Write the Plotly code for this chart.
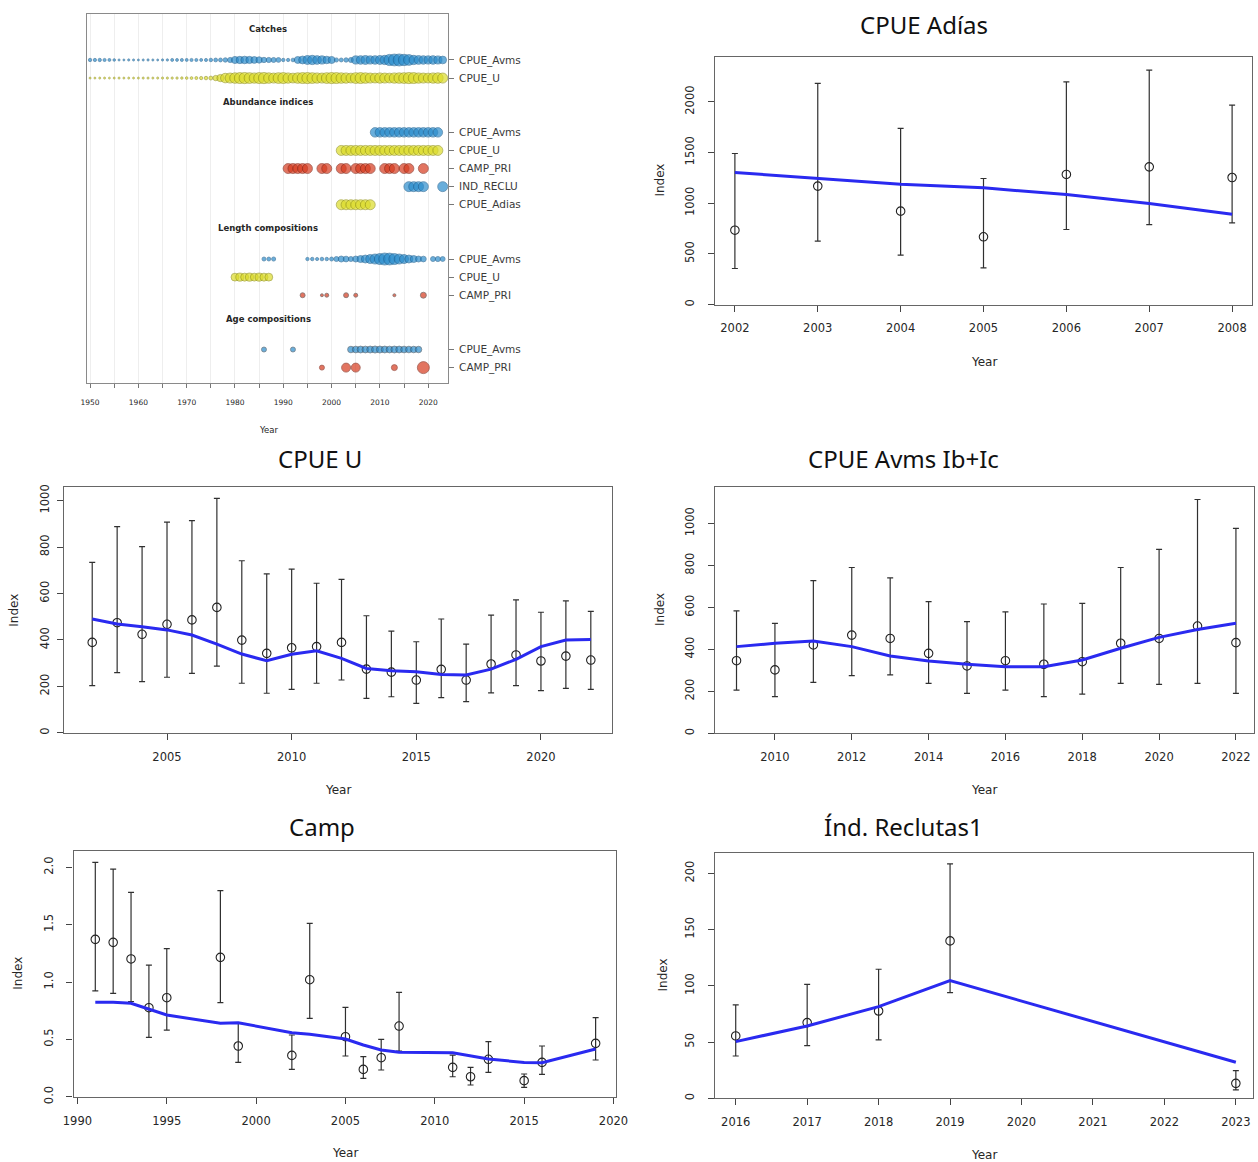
import plotly.graph_objects as go
import numpy as np

W, H = 1258, 1162

# ---------------- Data overview panel (top-left) ----------------
catch_years = list(range(1950, 2024))
catch_cpue_avms = [120, 110, 115, 100, 90, 70,
                   45, 40, 50, 45, 40, 45, 50, 45, 40, 50, 55,
                   90, 85, 95, 90, 100, 95, 90, 100,
                   130, 150, 160, 200, 280,
                   520, 560, 600, 540, 480, 420,
                   300, 280, 260, 240,
                   120, 110, 140,
                   500, 650, 820, 900, 780, 700, 600, 520,
                   180, 160, 200, 260,
                   700, 760, 820, 700, 750, 820, 900,
                   1300, 1450, 1500, 1350, 1200,
                   900, 800, 750, 700, 760, 680, 620]
catch_cpue_u = [40, 38, 42, 40, 36, 40, 44, 40, 42, 38, 40, 44, 46, 42, 45, 48, 50, 52, 55, 60,
                70, 80, 90, 110, 130, 160,
                300, 550,
                950, 1050, 1150, 1250, 1300, 1200, 1100, 1250, 1300, 1150, 1050, 1200,
                1250, 1100, 1000, 1150, 1250, 1300, 1200, 1100, 1050, 1200, 1300, 1250,
                1150, 1100, 1000, 1200, 1250, 1150, 1050, 1000, 1100, 1050, 1000, 1100,
                1150, 1200, 1300, 1250, 1100, 1050, 1000, 1100, 1150, 1050]

abund_avms_years = list(range(2009, 2023))
abund_u_years = list(range(2002, 2023))
abund_camp_years = [1991, 1992, 1993, 1994, 1995, 1998, 1999, 2002, 2003, 2005, 2006,
                    2007, 2008, 2011, 2012, 2013, 2015, 2016, 2019]
abund_reclu_years = [2016, 2017, 2018, 2019, 2023]
abund_adias_years = list(range(2002, 2009))

len_avms_years = [1986, 1987, 1988, 1995, 1996, 1997, 1998, 1999] + list(range(2000, 2020)) + [2021, 2022, 2023]
len_avms_n = [160, 150, 170, 110, 120, 100, 130, 120,
              160, 250, 360, 330, 250, 360, 490, 640, 810, 1000, 1210, 1440, 1400, 1210, 1000,
              810, 640, 490, 360, 330,
              250, 260, 240]
len_u_years = list(range(1980, 1988))
len_u_n = [620, 650, 640, 660, 630, 650, 640, 620]
len_camp_years = [1994, 1998, 1999, 2003, 2005, 2013, 2019]
len_camp_n = [250, 90, 160, 250, 160, 90, 360]

age_avms_years = [1986, 1992] + list(range(2004, 2019))
age_avms_n = [250, 250, 430, 450, 470, 460, 480, 500, 490, 470, 460, 480, 470, 450, 440, 430, 420]
age_camp_years = [1998, 2003, 2005, 2013, 2019]
age_camp_n = [250, 810, 810, 360, 1440]

row_labels = ["CPUE_Avms", "CPUE_U", "CPUE_Avms", "CPUE_U", "CAMP_PRI", "IND_RECLU",
              "CPUE_Adias", "CPUE_Avms", "CPUE_U", "CAMP_PRI", "CPUE_Avms", "CAMP_PRI"]
row_pos = [0, 1, 4, 5, 6, 7, 8, 11, 12, 13, 16, 17]
section_labels = ["Catches", "Abundance indices", "Length compositions", "Age compositions"]
section_pos = [-1.7, 2.3, 9.3, 14.3]

# ---------------- Index fit panels ----------------
adias_years = list(range(2002, 2009))
adias_obs = [733, 1168, 921, 668, 1283, 1358, 1253]
adias_upper = [1490, 2181, 1737, 1243, 2197, 2312, 1967]
adias_lower = [355, 625, 487, 362, 740, 789, 806]
adias_exp = [1302, 1243, 1187, 1151, 1085, 997, 891]

u_years = list(range(2002, 2023))
u_obs = [389, 474, 424, 467, 486, 540, 399, 342, 366, 371, 389, 274, 261, 227, 273, 227, 296, 335, 309, 330, 313]
u_upper = [734, 888, 802, 907, 914, 1010, 741, 684, 705, 644, 661, 504, 438, 392, 490, 382, 507, 572, 519, 568, 523]
u_lower = [203, 259, 220, 239, 256, 287, 213, 170, 187, 213, 227, 148, 155, 126, 151, 134, 172, 203, 181, 191, 187]
u_exp = [490, 468, 457, 443, 421, 382, 339, 310, 338, 353, 320, 277, 267, 263, 251, 249, 274, 316, 371, 399, 402]

avms_years = list(range(2009, 2023))
avms_obs = [346, 302, 421, 468, 452, 381, 321, 346, 329, 341, 429, 452, 511, 432]
avms_upper = [583, 524, 727, 790, 741, 627, 532, 579, 616, 619, 790, 876, 1114, 976]
avms_lower = [206, 175, 243, 275, 278, 238, 190, 206, 175, 187, 238, 233, 238, 190]
avms_exp = [413, 429, 440, 413, 368, 344, 329, 317, 317, 349, 405, 457, 495, 524]

camp_years = [1991, 1992, 1993, 1994, 1995, 1998, 1999, 2002, 2003, 2005, 2006, 2007, 2008,
              2011, 2012, 2013, 2015, 2016, 2019]
camp_obs = [1.372, 1.346, 1.201, 0.776, 0.863, 1.215, 0.442, 0.360, 1.020, 0.523, 0.238, 0.340,
            0.616, 0.256, 0.174, 0.326, 0.140, 0.299, 0.465]
camp_upper = [2.044, 1.985, 1.782, 1.148, 1.291, 1.797, 0.640, 0.538, 1.512, 0.779, 0.349, 0.500,
              0.910, 0.363, 0.256, 0.480, 0.198, 0.442, 0.689]
camp_lower = [0.922, 0.901, 0.830, 0.517, 0.581, 0.820, 0.299, 0.238, 0.683, 0.355, 0.160, 0.233,
              0.398, 0.174, 0.102, 0.212, 0.081, 0.195, 0.320]
camp_exp = [0.823, 0.823, 0.814, 0.762, 0.712, 0.640, 0.645, 0.558, 0.544, 0.503, 0.451, 0.407,
            0.387, 0.384, 0.355, 0.328, 0.299, 0.297, 0.416]

rec_years = [2016, 2017, 2018, 2019, 2023]
rec_obs = [55.4, 67.3, 77.6, 139.9, 13.3]
rec_upper = [83.0, 101.3, 114.7, 208.3, 24.6]
rec_lower = [37.6, 46.8, 51.9, 93.9, 7.5]
rec_exp = [50.4, 64.3, 81.5, 104.6, 32.0]

# ---------------- figure ----------------
BLUE = "#2a8ccc"
BLUE_L = "#1c5c8c"
YEL = "#dcdc28"
YEL_L = "#8c8c14"
RED = "#d63a1e"
RED_L = "#7c2010"
TXT = "#262626"
FONT = "DejaVu Sans"

fig = go.Figure()
ann = []


def dom_x(l, r):
    return [l / W, r / W]


def dom_y(t, b):
    return [1 - b / H, 1 - t / H]


def sizes(vals, vmax, dmax, dmin=1.8):
    return [max(dmin, dmax * np.sqrt(v / vmax)) for v in vals]


def bubbles(xs, row, sz, col, lcol):
    fig.add_trace(go.Scatter(
        x=xs, y=[row] * len(xs), mode="markers", xaxis="x", yaxis="y",
        marker=dict(size=sz, color=col, line=dict(color=lcol, width=0.8)),
        showlegend=False, hoverinfo="skip"))


def note(text, xpx, ypx, size, color=TXT, family=FONT, angle=0):
    ann.append(dict(text=text, x=xpx / W, y=1 - ypx / H, xref="paper", yref="paper",
                    xanchor="center", yanchor="middle", textangle=angle, showarrow=False,
                    font=dict(size=size, color=color, family=family)))


# catches
bubbles(catch_years, 0, sizes(catch_cpue_avms, 1500, 12), BLUE, BLUE_L)
bubbles(catch_years, 1, sizes(catch_cpue_u, 1500, 12), YEL, YEL_L)
# abundance
bubbles(abund_avms_years, 4, [9.5] * len(abund_avms_years), BLUE, BLUE_L)
bubbles(abund_u_years, 5, [10] * len(abund_u_years), YEL, YEL_L)
bubbles(abund_camp_years, 6, [10] * len(abund_camp_years), RED, RED_L)
bubbles(abund_reclu_years, 7, [10] * len(abund_reclu_years), BLUE, BLUE_L)
bubbles(abund_adias_years, 8, [10] * len(abund_adias_years), YEL, YEL_L)
# lengths
bubbles(len_avms_years, 11, sizes(len_avms_n, 1440, 12), BLUE, BLUE_L)
bubbles(len_u_years, 12, sizes(len_u_n, 1440, 12), YEL, YEL_L)
bubbles(len_camp_years, 13, sizes(len_camp_n, 1440, 12), RED, "#4a3a38")
# ages
bubbles(age_avms_years, 16, sizes(age_avms_n, 1440, 12), BLUE, "#3a4a58")
bubbles(age_camp_years, 17, sizes(age_camp_n, 1440, 12), RED, RED_L)

P1 = dict(l=86.7, r=448, t=14, b=383)
layout = dict(
    xaxis=dict(domain=dom_x(P1["l"], P1["r"]), range=[1949.3, 2024.1], anchor="y",
               tickvals=list(range(1950, 2021, 5)),
               ticktext=[str(y) if y % 10 == 0 else "" for y in range(1950, 2021, 5)],
               ticks="outside", ticklen=4, tickcolor="#777", tickfont=dict(size=7.5, color=TXT, family=FONT),
               showline=True, linecolor="#8a8a8a", mirror=True, linewidth=1, automargin=False,
               showgrid=True, gridcolor="#eeeeee", zeroline=False, ticklabelstandoff=8),
    yaxis=dict(domain=dom_y(P1["t"], P1["b"]), range=[17.85, -2.54], anchor="x", side="right",
               tickvals=row_pos, ticktext=row_labels, ticks="outside", ticklen=5, tickcolor="#777",
               tickfont=dict(size=10.5, color="#3a3a3a", family=FONT), automargin=False,
               showline=True, linecolor="#8a8a8a", mirror=True, linewidth=1,
               showgrid=False, zeroline=False, ticklabelstandoff=3),
)
for s, p in zip(section_labels, section_pos):
    ann.append(dict(text="<b>" + s + "</b>", x=268 / W, xref="paper", y=p, yref="y",
                    xanchor="center", yanchor="middle",
                    showarrow=False, font=dict(size=8.5, color=TXT, family=FONT)))
note("Year", 269, 430, 8.5)


def panel(i, box, xr, yr, xt, yt, ytxt, years, obs, lo, hi, ex, title, tx, ty, idx_x, year_y,
          ystand=9):
    xa, ya = "x%d" % i, "y%d" % i
    fig.add_trace(go.Scatter(
        x=years, y=obs, mode="markers", xaxis=xa, yaxis=ya,
        marker=dict(symbol="circle-open", size=8.5, color="#222", line=dict(width=1.1, color="#222")),
        error_y=dict(type="data", symmetric=False,
                     array=[h - o for h, o in zip(hi, obs)],
                     arrayminus=[o - l for o, l in zip(obs, lo)],
                     color="#303030", thickness=1.2, width=3),
        showlegend=False, hoverinfo="skip"))
    fig.add_trace(go.Scatter(
        x=years, y=ex, mode="lines", xaxis=xa, yaxis=ya,
        line=dict(color="#2a2af0", width=3), showlegend=False, hoverinfo="skip"))
    l, r, t, b = box
    layout["xaxis%d" % i] = dict(
        domain=dom_x(l, r), range=xr, anchor=ya, tickvals=xt, ticks="outside", ticklen=6,
        tickcolor="#444", tickfont=dict(size=11.5, color=TXT, family=FONT), automargin=False,
        showline=True, linecolor="#666", mirror=True, linewidth=1.2,
        showgrid=False, zeroline=False, ticklabelstandoff=7)
    layout["yaxis%d" % i] = dict(
        domain=dom_y(t, b), range=yr, anchor=xa, tickvals=yt, ticktext=ytxt, ticks="outside",
        ticklen=6, tickcolor="#444", tickangle=-90, tickfont=dict(size=11.5, color=TXT, family=FONT),
        showline=True, linecolor="#666", mirror=True, linewidth=1.2, automargin=False,
        showgrid=False, zeroline=False, ticklabelstandoff=ystand)
    note(title, tx, ty, 24, "#111", "Noto Sans")
    note("Year", (l + r) / 2, year_y, 12)
    note("Index", idx_x, (t + b) / 2, 12, angle=-90)


panel(2, (715, 1252, 56.7, 304.5), [2001.76, 2008.24], [0, 2445], adias_years,
      [0, 500, 1000, 1500, 2000], None,
      adias_years, adias_obs, adias_lower, adias_upper, adias_exp,
      "CPUE Adías", 924, 25, 660, 361.7)
panel(3, (64.3, 612, 486.7, 732.7), [2000.88, 2022.85], [0, 1060], [2005, 2010, 2015, 2020],
      [0, 200, 400, 600, 800, 1000], None,
      u_years, u_obs, u_lower, u_upper, u_exp,
      "CPUE U", 320, 459, 14, 790, ystand=4)
panel(4, (715, 1253.6, 486.7, 733.3), [2008.44, 2022.46], [0, 1175], list(range(2010, 2023, 2)),
      [0, 200, 400, 600, 800, 1000], None,
      avms_years, avms_obs, avms_lower, avms_upper, avms_exp,
      "CPUE Avms Ib+Ic", 903, 459, 660, 790)
panel(5, (73.5, 616, 850.7, 1096.7), [1989.78, 2020.14], [0, 2.145], list(range(1990, 2021, 5)),
      [0, 0.5, 1.0, 1.5, 2.0], ["0.0", "0.5", "1.0", "1.5", "2.0"],
      camp_years, camp_obs, camp_lower, camp_upper, camp_exp,
      "Camp", 322, 826, 18, 1153)
panel(6, (715, 1253, 852.7, 1098.3), [2015.71, 2023.24], [0, 218.3], list(range(2016, 2024)),
      [0, 50, 100, 150, 200], None,
      rec_years, rec_obs, rec_lower, rec_upper, rec_exp,
      "Índ. Reclutas1", 903, 826, 662, 1155)

fig.update_layout(**layout)
fig.update_layout(width=W, height=H, margin=dict(l=0, r=0, t=0, b=0, autoexpand=False),
                  paper_bgcolor="white", plot_bgcolor="white", annotations=ann,
                  font=dict(family=FONT, color=TXT))
fig.write_html("out.html")
